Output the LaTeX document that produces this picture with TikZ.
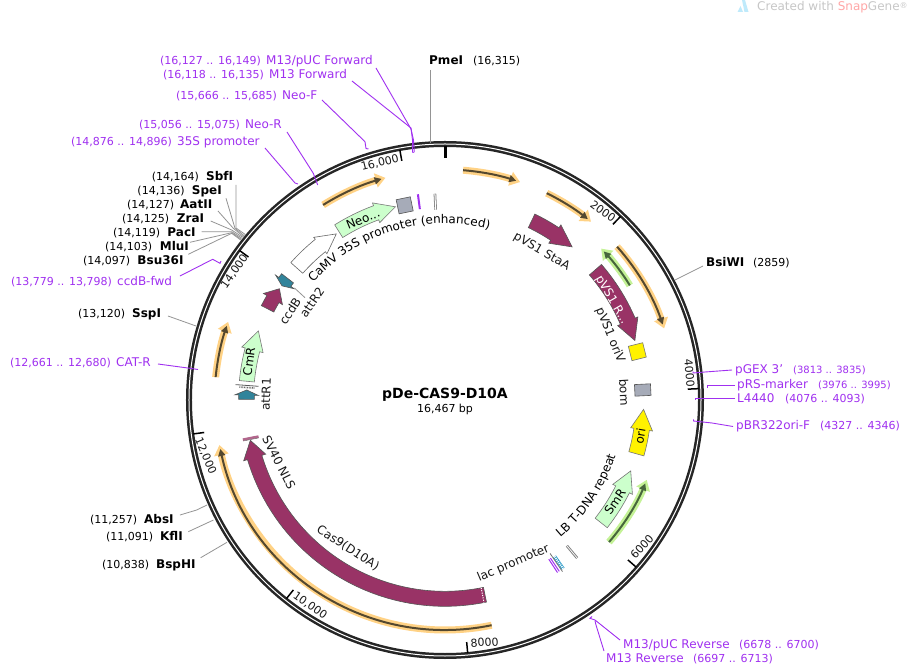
\documentclass[tikz,border=0pt]{standalone}
\usepackage{fontspec}
\setmainfont{DejaVu Sans}
\usetikzlibrary{arrows.meta,decorations.text}
\definecolor{ringc}{HTML}{262626}
\definecolor{maroon}{HTML}{993366}
\definecolor{lgreen}{HTML}{CCFFCC}
\definecolor{teal2}{HTML}{31849B}
\definecolor{pgray}{HTML}{A6ABB8}
\definecolor{purp}{HTML}{A030F0}
\definecolor{halo}{HTML}{FFD285}
\definecolor{halog}{HTML}{C4F296}
\definecolor{coreo}{HTML}{54482F}
\definecolor{coreg}{HTML}{47663C}
\definecolor{edge}{HTML}{555555}
\tikzset{
  tx/.style={font=\fontsize{12}{14}\selectfont,inner sep=0pt,text=black!90},
  tk/.style={font=\fontsize{11}{13}\selectfont,inner sep=0pt,text=black!90},
  nm/.style={font=\fontsize{12}{14}\bfseries\selectfont,inner sep=0pt,anchor=base west},
  cd/.style={font=\fontsize{11}{13}\selectfont,inner sep=0pt,anchor=base west},
  pn/.style={font=\fontsize{12}{14}\selectfont,inner sep=0pt,anchor=base west,text=purp},
  pc/.style={font=\fontsize{11}{13}\selectfont,inner sep=0pt,anchor=base west,text=purp},
  pcs/.style={font=\fontsize{10}{12}\selectfont,inner sep=0pt,anchor=base west,text=purp},
  glead/.style={draw=black!42,line width=.8pt},
  plead/.style={draw=purp,line width=.9pt},
  fmaroon/.style={fill=maroon,draw=edge,line width=.6pt},
  fgreen/.style={fill=lgreen,draw=edge!80,line width=.6pt},
  fwhite/.style={fill=white,draw=edge!90,line width=.6pt},
  fteal/.style={fill=teal2,draw=edge,line width=.6pt},
  fyellow/.style={fill=yellow,draw=edge!80,line width=.6pt},
  fgray/.style={fill=pgray,draw=edge,line width=.6pt},
}
% style, tail angle, head-base angle, tip angle, radius, half width, half head width
\newcommand{\Feat}[7]{\draw[#1] ({90-(#2)}:{#5+#6}) arc[start angle={90-(#2)},end angle={90-(#3)},radius={#5+#6}] -- ({90-(#3)}:{#5+#7}) -- ({90-(#4)}:#5) -- ({90-(#3)}:{#5-#7}) -- ({90-(#3)}:{#5-#6}) arc[start angle={90-(#3)},end angle={90-(#2)},radius={#5-#6}] -- cycle;}
% halo colour, core colour, start, end, radius, core inset
\newcommand{\Prim}[6]{%
  \draw[#1,line width=7pt,-{Triangle[width=14pt,length=10pt]}] ({90-(#3)}:#5) arc[start angle={90-(#3)},end angle={90-(#4)},radius=#5];
  \draw[#2,line width=2pt,-{Triangle[width=7pt,length=7pt]}] ({90-(#3)}:#5) arc[start angle={90-(#3)},end angle={90-(#4)+(#6)},radius=#5];}
\newcommand{\Tick}[1]{\draw[black,line width=1.5pt] ({90-(#1)}:243) -- ({90-(#1)}:254);}
% style, angle, radius, radial half size, tangent half size
\newcommand{\Sq}[5]{\begin{scope}[rotate={-(#2)}]\draw[#1] ({-(#5)},{#3-#4}) rectangle ({#5},{#3+#4});\end{scope}}
% grey bar: angle, radius, half length
\newcommand{\Bar}[4]{\draw[#1] ({90-(#2)}:{#3-#4}) -- ({90-(#2)}:{#3+#4});}
\newcommand{\LeadA}[4]{\coordinate (#2-a) at (#3); \coordinate (#2-b) at (#4); \draw[#1] (#2-a) -- (#2-b);}
\newcommand{\LeadB}[5]{\coordinate (#2-a) at (#3); \coordinate (#2-b) at (#4); \coordinate (#2-c) at (#5); \draw[#1] (#2-a) -- (#2-b) -- (#2-c);}
\newcommand{\LeadC}[6]{\coordinate (#2-a) at (#3); \coordinate (#2-b) at (#4); \coordinate (#2-c) at (#5); \coordinate (#2-d) at (#6); \draw[#1] (#2-a) -- (#2-b) -- (#2-c) -- (#2-d);}
\begin{document}
\begin{tikzpicture}[x=1pt,y=1pt]
\useasboundingbox[fill=white] (-445,-266) rectangle (462,400);
% ring
\draw[ringc,line width=6pt] (0,0) circle[radius=256];
\draw[white,line width=1pt] (0,0) circle[radius=256];
\draw[black,line width=3pt] (90:242) -- (90:253.5);
\Tick{43.72}\Tick{87.44}\Tick{131.16}\Tick{174.88}\Tick{218.6}\Tick{262.32}\Tick{306.04}\Tick{349.76}
% primer arcs
\Prim{halo}{coreo}{-32}{-15}{230}{1}
\Prim{halo}{coreo}{4.5}{19}{230.5}{1}
\Prim{halo}{coreo}{26.2}{39.3}{230.5}{1}
\Prim{halo}{coreo}{48.3}{71.9}{230.5}{1}
\Prim{halog}{coreg}{58.2}{45.9}{217.5}{-1}
\Prim{halog}{coreg}{130.9}{111.6}{217}{-1}
\Prim{halo}{coreo}{168.3}{258.7}{230}{1}
\Prim{halo}{coreo}{275.7}{289.8}{230.5}{1}
% features
\Feat{fwhite}{-48.3}{-38.9}{-33.2}{198.5}{8}{10.5}
\Feat{fgreen}{-32.2}{-20.2}{-14.4}{199.5}{7.5}{10.5}
\Sq{fgray}{-11.7}{198.8}{7.2}{7.2}
\Bar{purp,line width=2pt}{-7.5}{200}{7.5}
\Bar{black!50,line width=2.6pt}{-2.8}{198.5}{8}
\Bar{white,line width=1pt}{-2.8}{198.5}{8}
\Feat{fmaroon}{25.8}{33.5}{39.7}{199}{7.5}{11}
\Feat{fmaroon}{49.1}{66.7}{72.6}{199}{8}{11}
\Sq{fyellow}{75.9}{198.3}{7.4}{7.4}
\Sq{fgray}{87.1}{198}{8}{5.8}
\Feat{fyellow}{105.7}{98.5}{92.7}{198.8}{7.8}{11}
\Feat{fgreen}{128.2}{116.7}{110.9}{198.8}{7.7}{11}
\Bar{black!50,line width=2.6pt}{140.1}{198}{8}
\Bar{white,line width=.7pt}{140.1}{198}{8}
% stripes by lac promoter
\Bar{purp,line width=1pt}{146.9}{198}{8}
\Bar{purp,line width=1pt}{146.3}{198}{8}
\Bar{cyan!60!teal,line width=3.4pt}{145}{198.5}{7.5}
\Bar{white,line width=2pt,dashed,dash pattern=on 1pt off 1pt}{145}{198.5}{7.5}
\Bar{black!55,line width=.8pt}{145.6}{197}{11}
% Cas9
\Feat{fmaroon}{168.4}{253.2}{258.3}{198.8}{7.5}{11.5}
\Bar{white,line width=1pt,dash pattern=on 1.2pt off 1.2pt}{169.1}{198.8}{7.5}
\Bar{maroon!75!white,line width=2.6pt}{258.9}{198}{8}
\Bar{black!60,line width=.4pt}{258.5}{198}{8}
% attR1, CmR, ccdB, attR2
\Bar{black!65,line width=.8pt}{274.2}{198.5}{11.5}
\Bar{black!60,line width=1.6pt,dash pattern=on .8pt off .8pt}{273.6}{198.5}{7.5}
\Feat{fteal}{270.2}{271.4}{272.9}{198.5}{7.8}{11.7}
\Feat{fgreen}{-84.6}{-75.4}{-69.7}{199}{7.5}{11}
\Feat{fmaroon}{-62.8}{-59.6}{-56.1}{199.5}{7}{11}
\Feat{fteal}{-52.3}{-53.6}{-55}{199}{7.5}{11.5}
% CaMV curved label
\path[decorate,decoration={text along path,text align=center,text={|\fontsize{12}{14}\selectfont|CaMV 35S promoter (enhanced)}}] (146:176.5) arc[start angle=146,end angle=67.7,radius=176.5];
% LB T-DNA curved label
\path[decorate,decoration={text along path,text align=center,text={|\fontsize{12}{14}\selectfont|LB T-DNA repeat}}] (-51:179.5) arc[start angle=-51,end angle=-17,radius=179.5];
\begin{scope}[x=1pt,y=-1pt,shift={(-445pt,400pt)}]
% watermark
\fill[cyan!25!white] (742,0) -- (745,0) -- (748.5,12) -- (744.5,12) -- cycle;
\fill[cyan!25!white] (740.5,6) -- (743,12) -- (737.5,12) -- cycle;
\node[font=\fontsize{12}{14}\selectfont,inner sep=0pt,anchor=base west,text=black!22] (wm) at (757,11) {Created with \textcolor{red!35!white}{Snap}Gene\raisebox{2pt}{\fontsize{8}{9}\selectfont®}};
% centre
\node[font=\fontsize{14}{16}\bfseries\selectfont,inner sep=0pt] (title) at (445,395) {pDe-CAS9-D10A};
\node[font=\fontsize{11}{13}\selectfont,inner sep=0pt] (size) at (445,409) {16,467 bp};
% tick labels
\node[tk,rotate=14] (t16) at (380,163) {16,000};
\node[tk,rotate=-36] (t2) at (603,211) {2000};
\node[tk,rotate=-85] (t4) at (689.5,373) {4000};
\node[tk,rotate=47] (t6) at (642,547) {6000};
\node[tk,rotate=4] (t8) at (484.5,642.5) {8000};
\node[tk,rotate=-35] (t10) at (310,606) {10,000};
\node[tk,rotate=-67] (t12) at (205.5,456) {12,000};
\node[tk,rotate=55] (t14) at (234.5,271.5) {14,000};
% feature labels
\node[tx,rotate=-30] (lStaA) at (541.7,251.7) {pVS1 StaA};
\node[tx,rotate=-68] (loriV) at (610,335) {pVS1 oriV};
\node[tx,rotate=-87] (lbom) at (624.3,392.3) {bom};
\node[tx,rotate=23] (llac) at (513.3,563.3) {lac promoter};
\node[tx,rotate=-33] (lCas) at (348,548) {Cas9(D10A)};
\node[tx,rotate=-63] (lSV) at (279,462.7) {SV40 NLS};
\node[tx,rotate=88] (lattR1) at (266,394.3) {attR1};
\node[tx,rotate=55] (lattR2) at (312,302.5) {attR2};
\node[tx,rotate=57] (lccdB) at (290,311) {ccdB};
\node[tx,rotate=-60,text=white] (lR) at (611.7,300) {pVS1 R...};
\node[tx,rotate=22,text=black] (lNeo) at (363,219) {Neo...};
\node[tx,rotate=82,text=black] (lCmR) at (249,361.5) {CmR};
\node[tx,rotate=80,text=black] (lori) at (640,436) {ori};
\node[tx,rotate=55,text=black] (lSmR) at (615,501.5) {SmR};
% attR2 stub
\LeadA{glead}{attRii}{294.5,288}{305,297.7}
% enzyme labels
\node[cd] (c1) at (151.7,181) {(14,164)}; \node[nm] (e1) at (206,181) {SbfI};
\node[cd] (c2) at (137.3,195) {(14,136)}; \node[nm] (e2) at (191.7,195) {SpeI};
\node[cd] (c3) at (127,209) {(14,127)}; \node[nm] (e3) at (180,209) {AatII};
\node[cd] (c4) at (122,223) {(14,125)}; \node[nm] (e4) at (176.7,223) {ZraI};
\node[cd] (c5) at (113,237) {(14,119)}; \node[nm] (e5) at (167.3,237) {PacI};
\node[cd] (c6) at (105,251) {(14,103)}; \node[nm] (e6) at (159.7,251) {MluI};
\node[cd] (c7) at (83,265) {(14,097)}; \node[nm] (e7) at (137.3,265) {Bsu36I};
\LeadB{glead}{l1}{236,185}{236,228}{246,235}
\LeadB{glead}{l2}{226,198.3}{235,228.3}{244.5,236}
\LeadB{glead}{l3}{218,211}{233.3,228.3}{243.5,236.7}
\LeadB{glead}{l4}{210.7,221}{231.7,230}{242.7,237.3}
\LeadB{glead}{l5}{201.7,231.7}{231.7,231.7}{242,238.3}
\LeadB{glead}{l6}{190,242.3}{231.7,232.7}{241.3,239.3}
\LeadB{glead}{l7}{188.3,254.3}{231.7,233.3}{240.7,240}
\node[cd] (cS) at (78,318) {(13,120)}; \node[nm] (eS) at (132,318) {SspI};
\LeadA{glead}{lS}{168,316}{196,326}
\node[cd] (cA) at (90,523) {(11,257)}; \node[nm] (eA) at (144,523) {AbsI};
\LeadB{glead}{lA}{180,515}{196.7,510}{207,505}
\node[cd] (cK) at (106,540) {(11,091)}; \node[nm] (eK) at (160,540) {KflI};
\LeadA{glead}{lK}{188.3,531.7}{213.5,520}
\node[cd] (cB) at (102,568) {(10,838)}; \node[nm] (eB) at (156,568) {BspHI};
\LeadA{glead}{lB}{200.7,557.7}{227,542.3}
\node[nm] (eP) at (429,65) {PmeI}; \node[cd] (cP) at (473,65) {(16,315)};
\LeadA{glead}{lP}{430,70}{430,143}
\node[nm] (eW) at (706,267) {BsiWI}; \node[cd] (cW) at (753,267) {(2859)};
\LeadA{glead}{lW}{703,266}{675,280}
% primer labels
\node[pc] (p1c) at (160,65) {(16,127 .. 16,149)}; \node[pn] (p1) at (266,65) {M13/pUC Forward};
\node[pc] (p2c) at (163,79) {(16,118 .. 16,135)}; \node[pn] (p2) at (269,79) {M13 Forward};
\node[pc] (p3c) at (176,100) {(15,666 .. 15,685)}; \node[pn] (p3) at (282,100) {Neo-F};
\node[pc] (p4c) at (139,129) {(15,056 .. 15,075)}; \node[pn] (p4) at (245,129) {Neo-R};
\node[pc] (p5c) at (71,146) {(14,876 .. 14,896)}; \node[pn] (p5) at (177,146) {35S promoter};
\node[pc] (p6c) at (11,286) {(13,779 .. 13,798)}; \node[pn] (p6) at (117,286) {ccdB-fwd};
\node[pc] (p7c) at (10,367) {(12,661 .. 12,680)}; \node[pn] (p7) at (116,367) {CAT-R};
\node[pn] (p8) at (735,374) {pGEX 3'}; \node[pcs] (p8c) at (793,374) {(3813 .. 3835)};
\node[pn] (p9) at (737,389) {pRS-marker}; \node[pcs] (p9c) at (818,389) {(3976 .. 3995)};
\node[pn] (p10) at (737,403) {L4440}; \node[pc] (p10c) at (785,403) {(4076 .. 4093)};
\node[pn] (p11) at (736,430) {pBR322ori-F}; \node[pc] (p11c) at (820,430) {(4327 .. 4346)};
\node[pn] (p12) at (623,648) {M13/pUC Reverse}; \node[pc] (p12c) at (739,648) {(6678 .. 6700)};
\node[pn] (p13) at (606,662) {M13 Reverse}; \node[pc] (p13c) at (693,662) {(6697 .. 6713)};
% primer leaders
\LeadC{plead}{q1}{376,68}{411,129}{413.5,140}{414.3,152}
\LeadC{plead}{q2}{352,81}{411,128}{412.5,140}{412.5,152.5}
\draw[plead] (q1-d) -- (q2-d);
\LeadC{plead}{q3}{322,100}{365,141.7}{366,148.5}{368.5,149}
\LeadB{plead}{q4}{287,132}{313.3,173.3}{317.7,185}
\LeadB{plead}{q5}{265,148}{295,183}{298,184}
\LeadC{plead}{q6}{180,276}{212.7,259.3}{220,263.3}{221,261}
\LeadB{plead}{q7}{158,364}{190,368.3}{198,369.5}
\LeadC{plead}{q8}{732,370}{705,372}{693,373}{693,371.5}
\LeadB{plead}{q9}{735,385.7}{707.3,385.7}{707.3,388}
\LeadB{plead}{q10}{735,398}{695,398}{695,400}
\LeadC{plead}{q11}{733,426.5}{712,423}{693.5,421}{693.5,419.5}
\LeadC{plead}{q12}{620,640}{595,620}{590,618.3}{592,616.5}
\LeadB{plead}{q13}{604,651}{596,625}{595,620.7}
\end{scope}
\end{tikzpicture}
\end{document}
